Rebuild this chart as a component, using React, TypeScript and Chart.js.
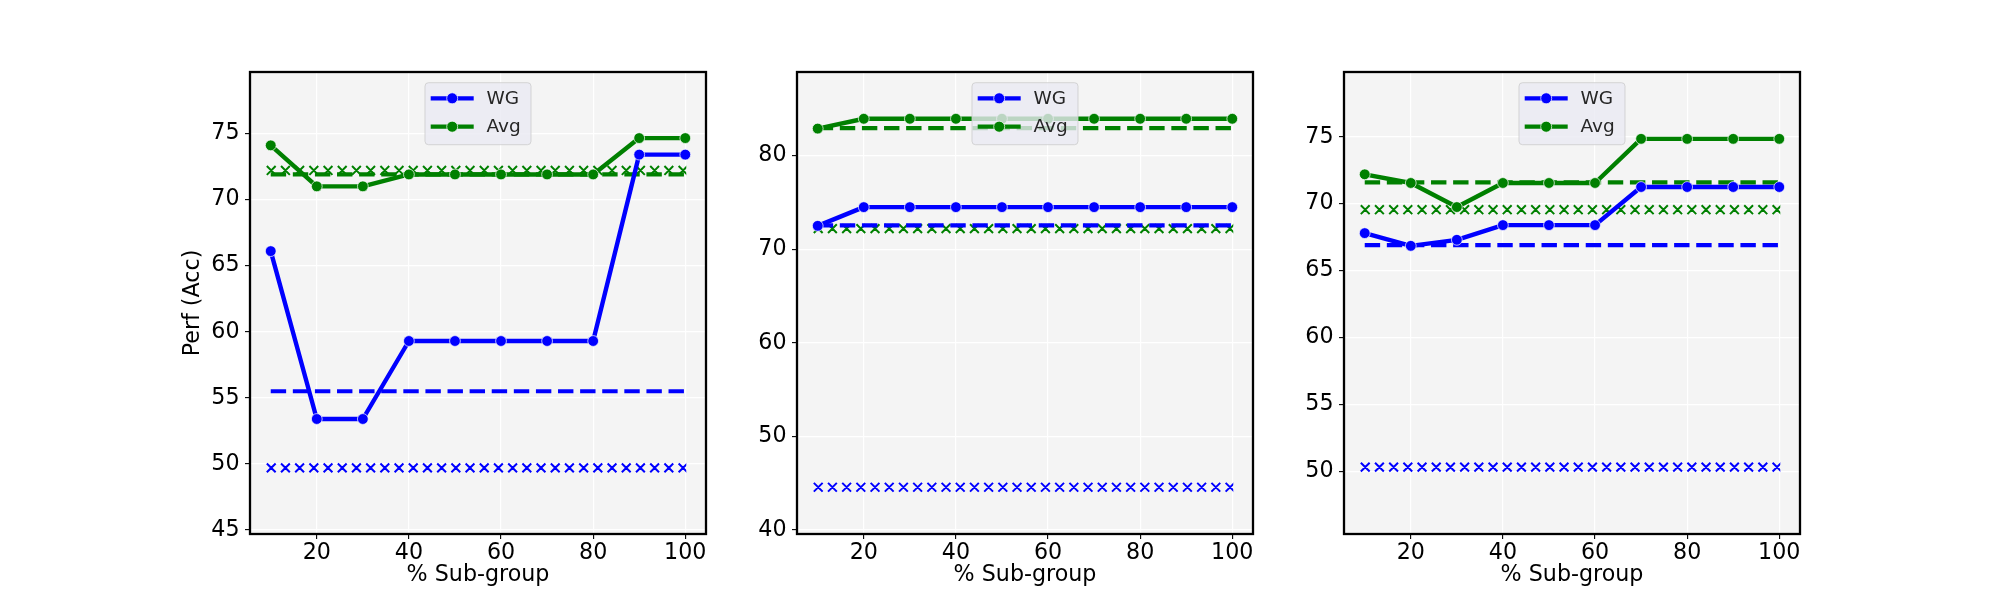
import React, { useEffect, useRef } from "react";
import { Chart, registerables } from "chart.js";

Chart.register(...registerables);

// ---------- data ----------
const X_VALUES = [10, 20, 30, 40, 50, 60, 70, 80, 90, 100];
const X_TICKS = [20, 40, 60, 80, 100];
const X_MIN = 5.5;
const X_MAX = 104.5;
const X_TITLE = "% Sub-group";
const Y_TITLE = "Perf (Acc)";
const LEGEND_LABELS = ["WG", "Avg"];

// Panel 1
const WG_1 = [66.1, 53.4, 53.4, 59.3, 59.3, 59.3, 59.3, 59.3, 73.4, 73.4];
const AVG_1 = [74.1, 71.0, 71.0, 71.9, 71.9, 71.9, 71.9, 71.9, 74.65, 74.65];
const WG_DASHED_1 = 55.5;
const AVG_DASHED_1 = 71.9;
const WG_CROSS_1 = 49.7;
const AVG_CROSS_1 = 72.2;
const Y_TICKS_1 = [45, 50, 55, 60, 65, 70, 75];
const Y_MIN_1 = 44.7;
const Y_MAX_1 = 79.65;

// Panel 2
const WG_2 = [72.5, 74.5, 74.5, 74.5, 74.5, 74.5, 74.5, 74.5, 74.5, 74.5];
const AVG_2 = [82.9, 83.95, 83.95, 83.95, 83.95, 83.95, 83.95, 83.95, 83.95, 83.95];
const WG_DASHED_2 = 72.55;
const AVG_DASHED_2 = 82.95;
const WG_CROSS_2 = 44.55;
const AVG_CROSS_2 = 72.2;
const Y_TICKS_2 = [40, 50, 60, 70, 80];
const Y_MIN_2 = 39.55;
const Y_MAX_2 = 88.95;

// Panel 3
const WG_3 = [67.8, 66.85, 67.3, 68.4, 68.4, 68.4, 71.25, 71.25, 71.25, 71.25];
const AVG_3 = [72.2, 71.55, 69.75, 71.55, 71.55, 71.55, 74.85, 74.85, 74.85, 74.85];
const WG_DASHED_3 = 66.9;
const AVG_DASHED_3 = 71.6;
const WG_CROSS_3 = 50.3;
const AVG_CROSS_3 = 69.55;
const Y_TICKS_3 = [50, 55, 60, 65, 70, 75];
const Y_MIN_3 = 45.3;
const Y_MAX_3 = 79.85;

// ---------- style ----------
const BLUE = "#0000ff";
const GREEN = "#008000";
const FONT = "'DejaVu Sans', sans-serif";
const FONT_SIZE = 22.2;
const LEGEND_FONT_SIZE = 18.5;
const PANEL_LEFTS = [250, 797, 1344];
const PANEL_WIDTH = 456;
const PANEL_TOP = 72;
const PANEL_BOTTOM = 534;
const Y_AXIS_W = 100;
const RIGHT_PAD = 20;
const CANVAS_H = 600;

type Panel = {
  wg: number[];
  avg: number[];
  wgDash: number;
  avgDash: number;
  wgCross: number;
  avgCross: number;
  yTicks: number[];
  yMin: number;
  yMax: number;
  showYTitle: boolean;
};

const PANELS: Panel[] = [
  { wg: WG_1, avg: AVG_1, wgDash: WG_DASHED_1, avgDash: AVG_DASHED_1, wgCross: WG_CROSS_1, avgCross: AVG_CROSS_1, yTicks: Y_TICKS_1, yMin: Y_MIN_1, yMax: Y_MAX_1, showYTitle: true },
  { wg: WG_2, avg: AVG_2, wgDash: WG_DASHED_2, avgDash: AVG_DASHED_2, wgCross: WG_CROSS_2, avgCross: AVG_CROSS_2, yTicks: Y_TICKS_2, yMin: Y_MIN_2, yMax: Y_MAX_2, showYTitle: false },
  { wg: WG_3, avg: AVG_3, wgDash: WG_DASHED_3, avgDash: AVG_DASHED_3, wgCross: WG_CROSS_3, avgCross: AVG_CROSS_3, yTicks: Y_TICKS_3, yMin: Y_MIN_3, yMax: Y_MAX_3, showYTitle: false },
];

// ---------- plugins ----------
const backgroundPlugin = {
  id: "axesBackground",
  beforeDraw(chart: any) {
    const { ctx, chartArea } = chart;
    ctx.save();
    ctx.fillStyle = "#f4f4f4";
    ctx.fillRect(chartArea.left, chartArea.top, chartArea.right - chartArea.left, chartArea.bottom - chartArea.top);
    ctx.restore();
  },
};

const crossRowPlugin = {
  id: "crossRow",
  afterDatasetDraw(chart: any, args: any) {
    const ds = chart.data.datasets[args.index];
    if (!ds.crossRow) return;
    const pts = args.meta.data;
    if (!pts || pts.length < 2) return;
    const x0 = pts[0].x;
    const x1 = pts[pts.length - 1].x;
    const y = pts[0].y;
    const ctx = chart.ctx;
    ctx.save();
    ctx.beginPath();
    ctx.rect(x0 - 5, y - 8, x1 + 1 - (x0 - 5), 16);
    ctx.clip();
    ctx.strokeStyle = ds.crossColor;
    ctx.lineWidth = 2;
    ctx.lineCap = "butt";
    ctx.beginPath();
    const h = 4.4;
    for (let cx = x0 + 0.5; cx < x1 + 6; cx += 14.2) {
      ctx.moveTo(cx - h, y - h);
      ctx.lineTo(cx + h, y + h);
      ctx.moveTo(cx - h, y + h);
      ctx.lineTo(cx + h, y - h);
    }
    ctx.stroke();
    ctx.restore();
  },
};

const framePlugin = {
  id: "frame",
  afterDatasetsDraw(chart: any) {
    const { ctx, chartArea } = chart;
    ctx.save();
    ctx.strokeStyle = "#000";
    ctx.lineWidth = 2.3;
    ctx.strokeRect(chartArea.left, chartArea.top, chartArea.right - chartArea.left, chartArea.bottom - chartArea.top);
    ctx.restore();
  },
};

const innerLegendPlugin = {
  id: "innerLegend",
  afterDraw(chart: any) {
    const { ctx, chartArea } = chart;
    const w = 106;
    const h = 62;
    const cx = (chartArea.left + chartArea.right) / 2;
    const left = cx - w / 2;
    const top = chartArea.top + 10.7;
    const r = 3.5;
    ctx.save();
    ctx.beginPath();
    ctx.moveTo(left + r, top);
    ctx.lineTo(left + w - r, top);
    ctx.arcTo(left + w, top, left + w, top + r, r);
    ctx.lineTo(left + w, top + h - r);
    ctx.arcTo(left + w, top + h, left + w - r, top + h, r);
    ctx.lineTo(left + r, top + h);
    ctx.arcTo(left, top + h, left, top + h - r, r);
    ctx.lineTo(left, top + r);
    ctx.arcTo(left, top, left + r, top, r);
    ctx.closePath();
    ctx.fillStyle = "rgba(234,234,242,0.8)";
    ctx.fill();
    ctx.strokeStyle = "rgba(204,204,204,0.8)";
    ctx.lineWidth = 1;
    ctx.stroke();

    const colors = [BLUE, GREEN];
    LEGEND_LABELS.forEach((label, i) => {
      const y = top + 15.6 + i * 28.4;
      ctx.strokeStyle = colors[i];
      ctx.lineWidth = 4.2;
      ctx.lineCap = "butt";
      ctx.beginPath();
      ctx.moveTo(left + 5.7, y);
      ctx.lineTo(left + 48.7, y);
      ctx.stroke();
      ctx.beginPath();
      ctx.arc(left + 27.2, y, 5.5, 0, Math.PI * 2);
      ctx.fillStyle = colors[i];
      ctx.fill();
      ctx.strokeStyle = "#ffffff";
      ctx.lineWidth = 0.7;
      ctx.stroke();
      ctx.fillStyle = "#262626";
      ctx.font = `${LEGEND_FONT_SIZE}px ${FONT}`;
      ctx.textBaseline = "middle";
      ctx.textAlign = "left";
      ctx.fillText(label, left + 61.5, y + 0.5);
    });
    ctx.restore();
  },
};

// ---------- chart component ----------
function PanelChart({ panel, left }: { panel: Panel; left: number }) {
  const ref = useRef<HTMLCanvasElement | null>(null);

  useEffect(() => {
    if (!ref.current) return;
    const xs0 = X_VALUES[0];
    const xs1 = X_VALUES[X_VALUES.length - 1];
    const series = (vals: number[]) => X_VALUES.map((x, i) => ({ x, y: vals[i] }));
    const flat = (v: number) => [{ x: xs0, y: v }, { x: xs1, y: v }];

    const mainLine = (label: string, vals: number[], color: string) => ({
      label,
      data: series(vals),
      borderColor: color,
      backgroundColor: color,
      borderWidth: 4.4,
      borderJoinStyle: "round",
      borderCapStyle: "round",
      pointRadius: 5.4,
      pointBorderColor: "#ffffff",
      pointBorderWidth: 0.7,
      pointBackgroundColor: color,
      tension: 0,
    });
    const dashLine = (label: string, v: number, color: string) => ({
      label,
      data: flat(v),
      borderColor: color,
      borderWidth: 4.2,
      borderDash: [15.4, 6.7],
      borderCapStyle: "butt",
      pointRadius: 0,
    });
    const crossLine = (label: string, v: number, color: string) => ({
      label,
      data: flat(v),
      borderColor: "rgba(0,0,0,0)",
      borderWidth: 0,
      pointRadius: 0,
      showLine: false,
      crossRow: true,
      crossColor: color,
    });

    const tickFont = { family: FONT, size: FONT_SIZE };

    const chart = new Chart(ref.current, {
      type: "line",
      data: {
        datasets: [
          mainLine("WG", panel.wg, BLUE),
          mainLine("Avg", panel.avg, GREEN),
          dashLine("WG ref", panel.wgDash, BLUE),
          dashLine("Avg ref", panel.avgDash, GREEN),
          crossLine("WG base", panel.wgCross, BLUE),
          crossLine("Avg base", panel.avgCross, GREEN),
        ] as any,
      },
      options: {
        animation: false,
        responsive: false,
        devicePixelRatio: 1,
        events: [],
        layout: { padding: { left: 0, right: RIGHT_PAD, top: PANEL_TOP, bottom: 0 } },
        plugins: {
          legend: { display: false },
          tooltip: { enabled: false },
        },
        scales: {
          x: {
            type: "linear",
            min: X_MIN,
            max: X_MAX,
            afterBuildTicks: (s: any) => {
              s.ticks = X_TICKS.map((v) => ({ value: v }));
            },
            afterFit: (s: any) => {
              s.height = CANVAS_H - PANEL_BOTTOM;
            },
            grid: {
              color: "#ffffff",
              lineWidth: 1.2,
              drawTicks: true,
              tickLength: 5,
              tickColor: "#000000",
              tickWidth: 1.1,
            },
            border: { display: false },
            ticks: {
              font: tickFont,
              color: "#000000",
              padding: 0.5,
              maxRotation: 0,
              autoSkip: false,
            },
            title: {
              display: true,
              text: X_TITLE,
              font: tickFont,
              color: "#000000",
              padding: { top: 0, bottom: 11.5 },
            },
          },
          y: {
            type: "linear",
            min: panel.yMin,
            max: panel.yMax,
            afterBuildTicks: (s: any) => {
              s.ticks = panel.yTicks.map((v) => ({ value: v }));
            },
            afterFit: (s: any) => {
              s.width = Y_AXIS_W;
            },
            grid: {
              color: "#ffffff",
              lineWidth: 1.2,
              drawTicks: true,
              tickLength: 5,
              tickColor: "#000000",
              tickWidth: 1.1,
            },
            border: { display: false },
            ticks: {
              font: tickFont,
              color: "#000000",
              padding: 5.5,
              autoSkip: false,
            },
            title: {
              display: panel.showYTitle,
              text: Y_TITLE,
              font: tickFont,
              color: "#000000",
              padding: { top: 29.5, bottom: 0 },
            },
          },
        },
      } as any,
      plugins: [backgroundPlugin, crossRowPlugin, framePlugin, innerLegendPlugin],
    });
    return () => chart.destroy();
  }, [panel]);

  const w = Y_AXIS_W + PANEL_WIDTH + RIGHT_PAD;
  return (
    <canvas
      ref={ref}
      width={w}
      height={CANVAS_H}
      style={{ position: "absolute", left: left - Y_AXIS_W, top: 0, width: w, height: CANVAS_H }}
    />
  );
}

export default function App() {
  return (
    <div
      style={{
        position: "absolute",
        left: 0,
        top: 0,
        width: 2000,
        height: 600,
        background: "#ffffff",
        overflow: "hidden",
      }}
    >
      {PANELS.map((p, i) => (
        <PanelChart key={i} panel={p} left={PANEL_LEFTS[i]} />
      ))}
    </div>
  );
}
